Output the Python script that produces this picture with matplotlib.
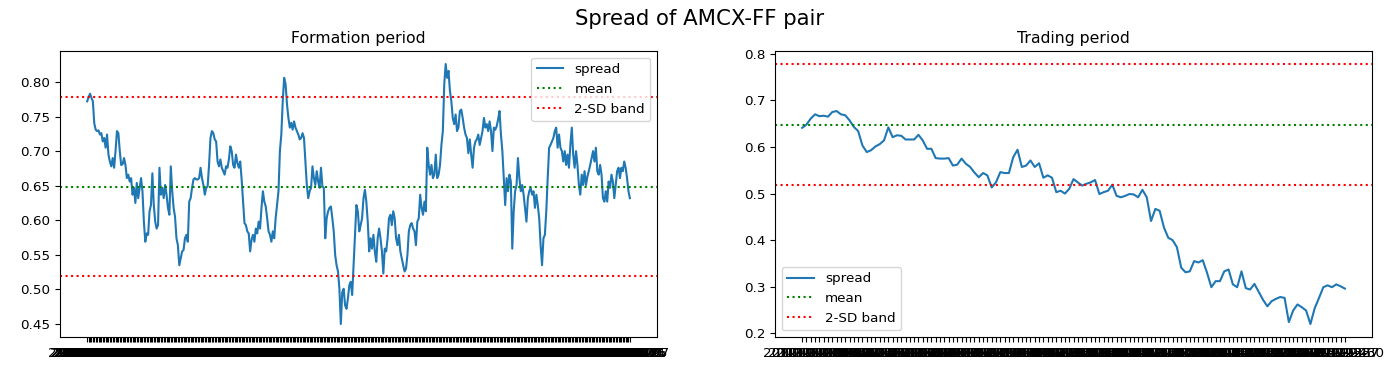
import matplotlib
matplotlib.use("Agg")
import matplotlib.pyplot as plt
import pandas as pd

# ---------------- data ----------------
formation_spread = [
    0.772, 0.778, 0.783, 0.777, 0.772, 0.740, 0.731, 0.729, 0.730, 0.724,
    0.726, 0.714, 0.719, 0.705, 0.724, 0.695, 0.685, 0.678, 0.690, 0.676,
    0.700, 0.729, 0.726, 0.700, 0.680, 0.681, 0.690, 0.680, 0.661, 0.666,
    0.656, 0.661, 0.637, 0.647, 0.625, 0.654, 0.632, 0.647, 0.661, 0.642,
    0.598, 0.569, 0.581, 0.579, 0.613, 0.622, 0.668, 0.622, 0.598, 0.588,
    0.593, 0.676, 0.637, 0.647, 0.632, 0.651, 0.637, 0.618, 0.608, 0.678,
    0.642, 0.618, 0.605, 0.574, 0.564, 0.535, 0.545, 0.555, 0.557, 0.574,
    0.579, 0.569, 0.627, 0.632, 0.647, 0.659, 0.661, 0.659, 0.659, 0.661,
    0.676, 0.661, 0.651, 0.637, 0.647, 0.649, 0.680, 0.719, 0.729, 0.726,
    0.717, 0.714, 0.685, 0.678, 0.688, 0.676, 0.671, 0.666, 0.678, 0.676,
    0.688, 0.707, 0.700, 0.680, 0.676, 0.695, 0.683, 0.676, 0.685, 0.659,
    0.627, 0.596, 0.593, 0.584, 0.581, 0.555, 0.572, 0.579, 0.569, 0.588,
    0.581, 0.598, 0.588, 0.618, 0.642, 0.627, 0.620, 0.603, 0.584, 0.579,
    0.569, 0.584, 0.574, 0.603, 0.622, 0.642, 0.700, 0.724, 0.772, 0.806,
    0.797, 0.768, 0.748, 0.734, 0.741, 0.731, 0.743, 0.734, 0.729, 0.724,
    0.717, 0.719, 0.726, 0.719, 0.685, 0.651, 0.632, 0.642, 0.647, 0.678,
    0.661, 0.651, 0.671, 0.656, 0.647, 0.676, 0.649, 0.647, 0.574, 0.603,
    0.613, 0.618, 0.620, 0.603, 0.584, 0.550, 0.535, 0.526, 0.501, 0.450,
    0.496, 0.501, 0.477, 0.472, 0.487, 0.506, 0.511, 0.492, 0.535, 0.579,
    0.622, 0.613, 0.584, 0.593, 0.603, 0.632, 0.644, 0.627, 0.598, 0.555,
    0.574,
    0.559, 0.579, 0.555, 0.540, 0.574, 0.588, 0.574, 0.555, 0.523, 0.559,
    0.555, 0.574, 0.603, 0.608, 0.593, 0.613, 0.603, 0.574, 0.564, 0.579,
    0.555, 0.545, 0.535, 0.526, 0.530, 0.550, 0.584, 0.593, 0.596, 0.588,
    0.584, 0.564, 0.598, 0.603, 0.637, 0.618, 0.608, 0.627, 0.613, 0.705,
    0.680, 0.666, 0.680, 0.661, 0.666, 0.695, 0.661, 0.666, 0.680, 0.709,
    0.729, 0.797, 0.826, 0.806, 0.816, 0.787, 0.772, 0.748, 0.739, 0.753,
    0.729, 0.734, 0.758, 0.760, 0.748, 0.734, 0.724, 0.719, 0.697, 0.717,
    0.695, 0.676, 0.705, 0.714, 0.717, 0.724, 0.709, 0.719, 0.729, 0.748,
    0.734, 0.739, 0.729, 0.743, 0.729, 0.700, 0.734, 0.731, 0.736, 0.746,
    0.758, 0.724, 0.700, 0.661, 0.622, 0.661, 0.642, 0.666, 0.656, 0.559,
    0.613, 0.642, 0.651, 0.690, 0.661, 0.642, 0.651, 0.637, 0.618, 0.598,
    0.632, 0.642, 0.647, 0.637, 0.642, 0.618, 0.637, 0.622, 0.603, 0.564,
    0.535, 0.574, 0.579, 0.613, 0.661, 0.705, 0.709, 0.714, 0.719, 0.729,
    0.734, 0.705, 0.724, 0.705, 0.700, 0.685, 0.700, 0.680, 0.695, 0.676,
    0.709, 0.734, 0.695, 0.676, 0.700, 0.680, 0.651, 0.637, 0.666, 0.651,
    0.671, 0.651, 0.663, 0.671, 0.680, 0.690, 0.700, 0.685, 0.705, 0.671,
    0.666, 0.680, 0.666, 0.632, 0.627, 0.642, 0.627, 0.656, 0.647, 0.666,
    0.656, 0.632, 0.651, 0.671, 0.676, 0.661, 0.676, 0.671, 0.685, 0.676,
    0.661, 0.642, 0.632,
]

trading_spread = [
    0.641, 0.648, 0.661, 0.670, 0.666, 0.667, 0.665, 0.675, 0.677, 0.670,
    0.668, 0.657, 0.643, 0.634, 0.603, 0.589, 0.593, 0.601, 0.606, 0.614,
    0.642, 0.621, 0.625, 0.624, 0.616, 0.616, 0.616, 0.626, 0.614, 0.596,
    0.596, 0.576, 0.575, 0.575, 0.576, 0.560, 0.562, 0.575, 0.564, 0.557,
    0.545, 0.535, 0.544, 0.539, 0.513, 0.524, 0.546, 0.544, 0.544, 0.578,
    0.594, 0.557, 0.560, 0.571, 0.557, 0.565, 0.534, 0.539, 0.534, 0.503,
    0.506, 0.500, 0.510,
    0.531, 0.524, 0.517, 0.521, 0.524, 0.529, 0.499, 0.503, 0.506, 0.519,
    0.495, 0.492, 0.495, 0.499, 0.498, 0.492, 0.508, 0.492, 0.441, 0.467,
    0.463, 0.427, 0.405, 0.400, 0.385, 0.341, 0.331, 0.333, 0.355, 0.352,
    0.357, 0.330, 0.299, 0.312, 0.312, 0.333, 0.337, 0.305, 0.299, 0.333,
    0.297, 0.294, 0.306, 0.289, 0.272, 0.258, 0.269, 0.274, 0.278, 0.276,
    0.224, 0.249, 0.262, 0.256, 0.249, 0.220, 0.254, 0.276, 0.299, 0.303,
    0.299, 0.305, 0.301, 0.296,
]

spread_mean = 0.648
band_upper = 0.778
band_lower = 0.519

formation_dates = [d.strftime("%Y-%m-%d") for d in
                   pd.bdate_range(end="2019-06-27", periods=len(formation_spread))]
trading_dates = [d.strftime("%Y-%m-%d") for d in
                 pd.bdate_range(end="2019-12-30", periods=len(trading_spread))]

# ---------------- figure ----------------
fig = plt.figure(figsize=(14, 3.75), dpi=100)
ax1 = fig.add_axes([0.0429, 0.1013, 0.4264, 0.7627])
ax2 = fig.add_axes([0.5536, 0.1013, 0.4264, 0.7627])

fig.suptitle("Spread of AMCX-FF pair", fontsize=15.3, y=0.975)

for ax, dates, vals, title, loc in [
    (ax1, formation_dates, formation_spread, "Formation period", "upper right"),
    (ax2, trading_dates, trading_spread, "Trading period", "lower left"),
]:
    ax.plot(dates, vals, color="#1f77b4", lw=1.5, label="spread")
    ax.axhline(spread_mean, color="green", ls=":", lw=1.5, label="mean")
    ax.axhline(band_upper, color="red", ls=":", lw=1.5, label="2-SD band")
    ax.axhline(band_lower, color="red", ls=":", lw=1.5)
    ax.set_title(title, fontsize=11.3)
    ax.tick_params(axis="both", labelsize=9.7)
    ax.legend(loc=loc, fontsize=9.7)

ax1.set_yticks([0.45, 0.50, 0.55, 0.60, 0.65, 0.70, 0.75, 0.80])
ax1.set_yticklabels(["0.45", "0.50", "0.55", "0.60", "0.65", "0.70", "0.75", "0.80"])
ax2.set_yticks([0.2, 0.3, 0.4, 0.5, 0.6, 0.7, 0.8])

fig.savefig("out.png", dpi=100)
